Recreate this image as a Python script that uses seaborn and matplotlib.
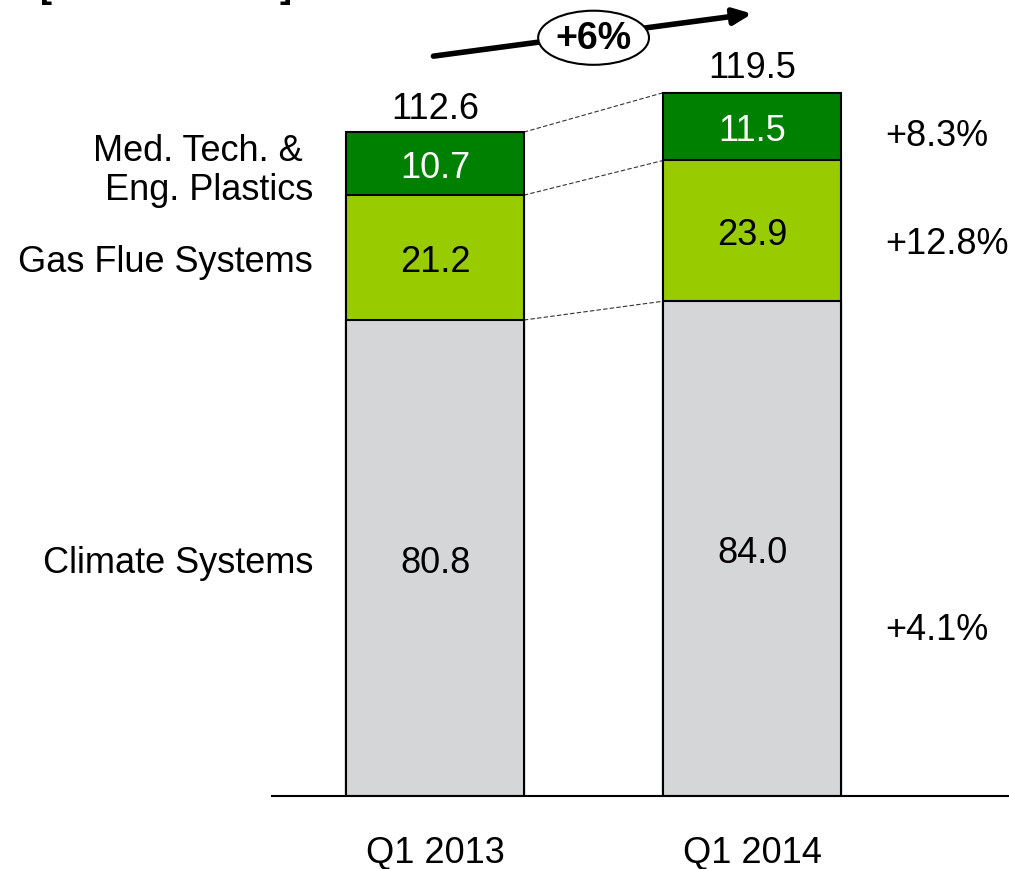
import numpy as np
import pandas as pd
import matplotlib.pyplot as plt
import seaborn as sns

# data
quarters = ["Q1 2013", "Q1 2014"]
segments = ["Climate Systems", "Gas Flue Systems", "Med. Tech. & \nEng. Plastics"]
climate = [80.8, 84.0]
gas_flue = [21.2, 23.9]
med_tech = [10.7, 11.5]
totals = [112.6, 119.5]
growth = ["+4.1%", "+12.8%", "+8.3%"]
growth_y = [29.0, 94.5, 112.8]
total_growth = "+6%"

colors = ["#D5D6D8", "#99CC00", "#008000"]
label_colors = ["black", "black", "white"]


def main():
    sns.set_theme(style="white")
    plt.rcParams["font.family"] = ["Liberation Sans", "DejaVu Sans"]
    plt.rcParams["text.color"] = "black"

    fig = plt.figure(figsize=(10.09, 8.70), dpi=100)
    ax = fig.add_axes([0.2696, 0.0839, 0.7304, 0.9161])

    layers = np.array([climate, gas_flue, med_tech])
    cum = np.cumsum(layers, axis=0)
    bar_w = 0.56

    # draw cumulative bars from tallest to shortest to get stacked look
    for i in range(len(segments) - 1, -1, -1):
        df = pd.DataFrame({"Quarter": quarters, "Value": cum[i]})
        sns.barplot(ax=ax, data=df, x="Quarter", y="Value", color=colors[i],
                    saturation=1, width=bar_w, edgecolor="black", linewidth=1.5)

    ax.set_xlim(-0.514, 1.81)
    ax.set_ylim(0, 135.3)

    # segment value labels
    starts = cum - layers
    for i in range(len(segments)):
        for j in range(len(quarters)):
            ax.text(j, starts[i, j] + layers[i, j] / 2, f"{layers[i, j]:.1f}",
                    ha="center", va="center_baseline", fontsize=26, color=label_colors[i])

    # totals above bars
    for j, t in enumerate(totals):
        ax.text(j, t + 1.2, f"{t:.1f}", ha="center", va="bottom", fontsize=26)

    # segment names on the left
    for i, name in enumerate(segments):
        ax.text(-0.385, starts[i, 0] + layers[i, 0] / 2, name, ha="right",
                va="center_baseline", fontsize=26, linespacing=1.15)

    # growth rates on the right
    for g, gy in zip(growth, growth_y):
        ax.text(1.42, gy, g, ha="left", va="center_baseline", fontsize=26)

    # dashed connectors between bar segments
    for i in range(len(segments)):
        ax.plot([bar_w / 2, 1 - bar_w / 2], [cum[i, 0], cum[i, 1]], ls=(0, (4, 2)),
                color="#333333", lw=0.8, zorder=0)

    # overall growth arrow
    ax.annotate("", xy=(1.0, 132.8), xytext=(-0.005, 125.6),
                arrowprops=dict(arrowstyle="-|>,head_length=0.9,head_width=0.4",
                                lw=4, color="black", shrinkA=0, shrinkB=0),
                annotation_clip=False)
    ax.text(0.5, 129.4, total_growth, ha="center", va="center_baseline", fontsize=27,
            fontweight="bold",
            bbox=dict(boxstyle="ellipse,pad=0.03", fc="white", ec="black", lw=1.5))

    # axes styling
    sns.despine(ax=ax, left=True)
    ax.spines["bottom"].set_color("black")
    ax.spines["bottom"].set_linewidth(1.5)
    ax.set_yticks([])
    ax.set_xlabel("")
    ax.set_ylabel("")
    ax.tick_params(axis="x", length=0, pad=28, labelsize=26, colors="black")

    # unit bracket cut off at top
    fig.text(40 / 1009, 1.003, "[", fontsize=26, va="baseline", ha="left", fontweight="bold")
    fig.text(280 / 1009, 1.003, "]", fontsize=26, va="baseline", ha="left", fontweight="bold")

    fig.savefig("out.png", dpi=100)
    plt.close(fig)


if __name__ == "__main__":
    main()
